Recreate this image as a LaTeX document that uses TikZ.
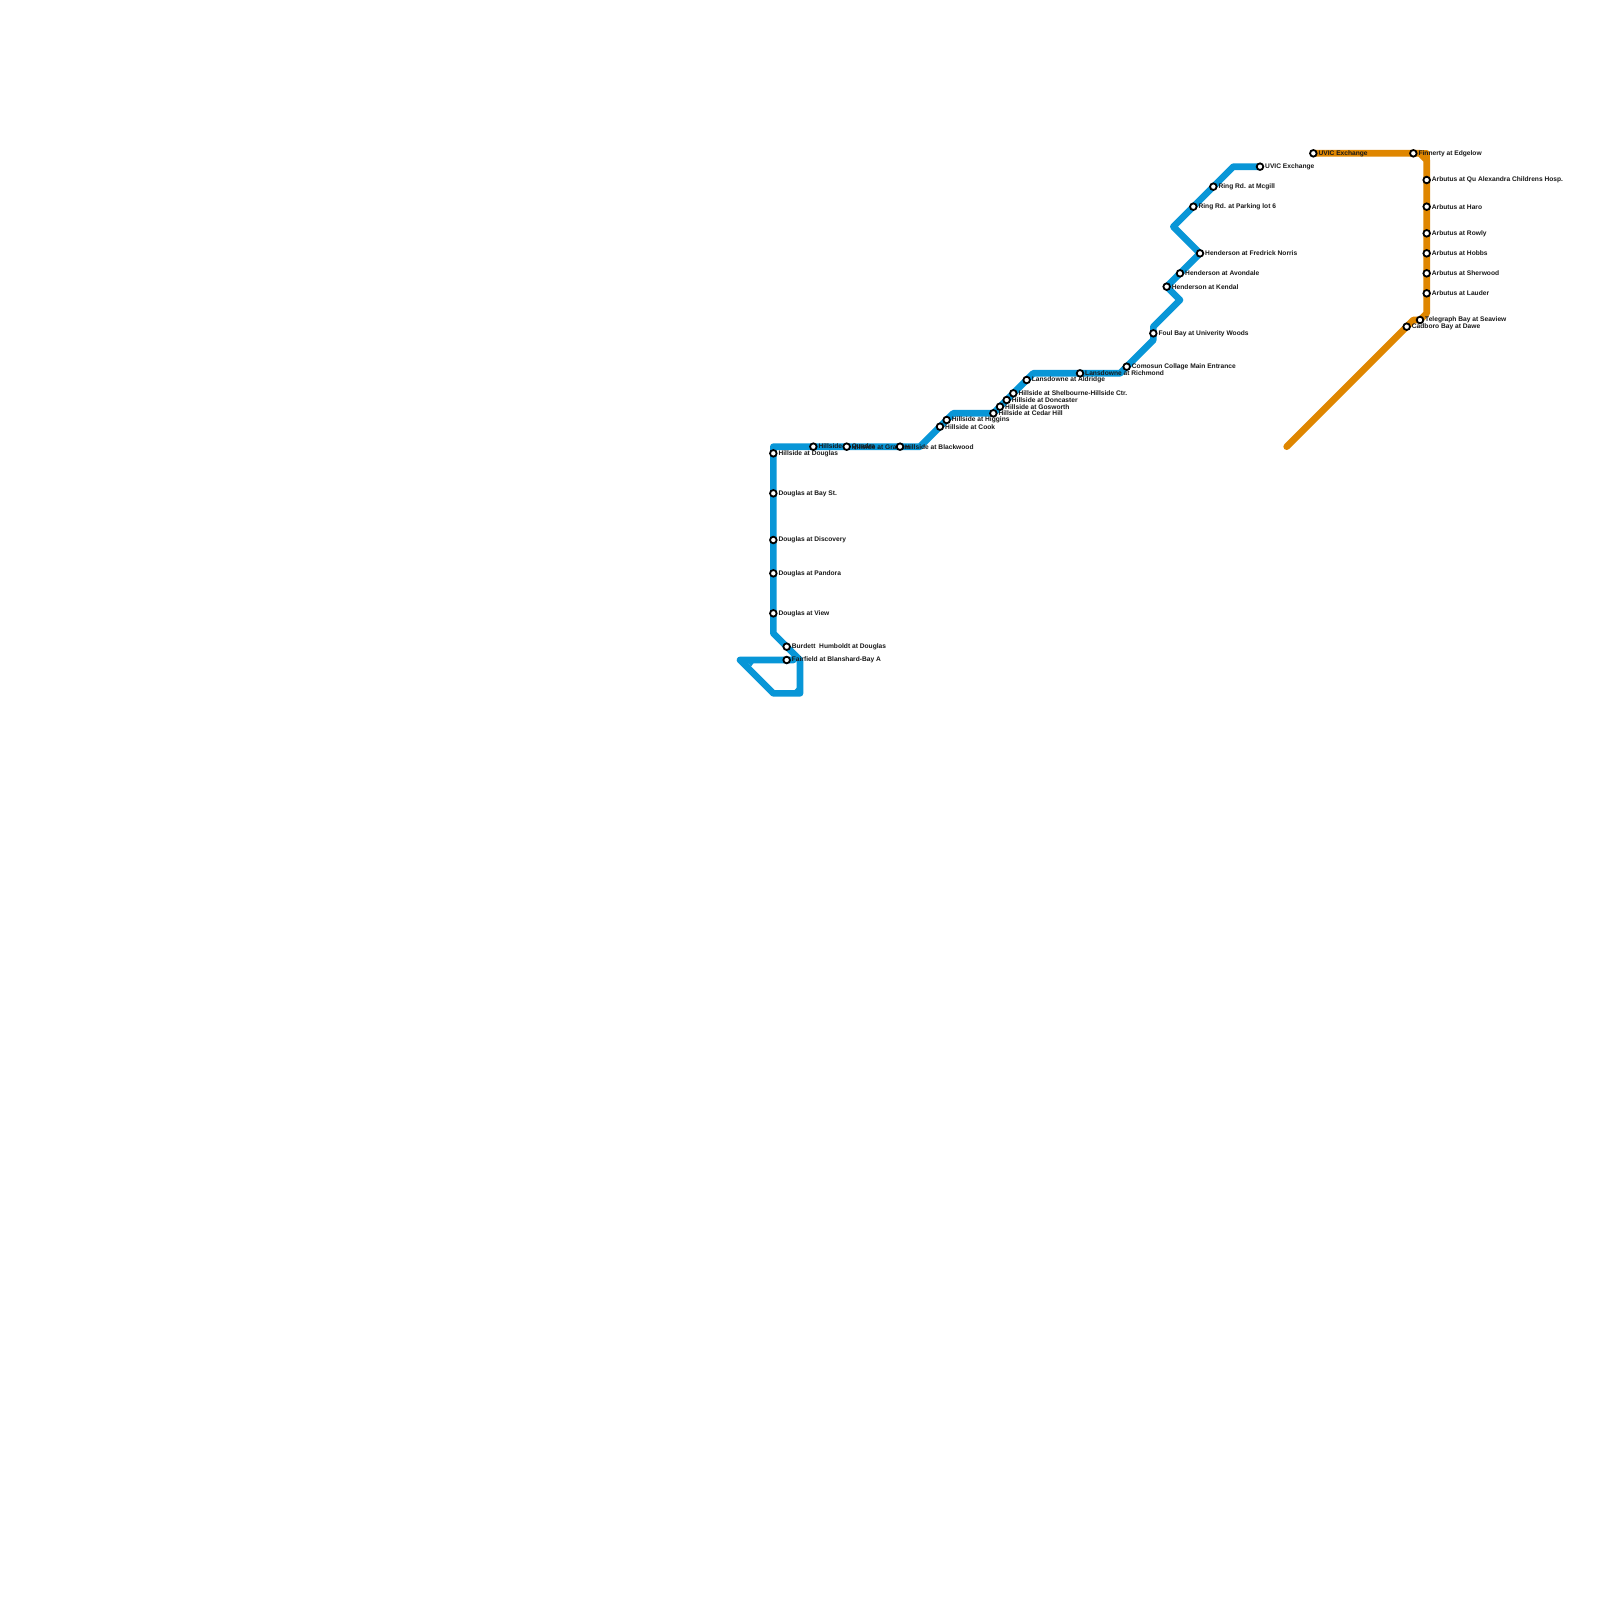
\documentclass[tikz,border=0pt]{standalone}
\usepackage{fontspec}
\setmainfont{Liberation Sans}
\definecolor{bl}{HTML}{0896D7}
\definecolor{or}{HTML}{DF8600}
\tikzset{x=1pt,y=-1pt,
 line/.style={line width=6.67pt,line join=round,line cap=round},
 stn/.style={circle,draw=black,fill=white,line width=1.8pt,minimum size=6.6pt,inner sep=0pt},
 lab/.style={anchor=west,inner sep=0pt,font=\fontsize{6.65}{7}\selectfont\bfseries,text=black!90}}
\newcommand{\st}[4]{\coordinate (#1) at (#2,#3);\node[lab] (#1l) at (#2+5,#3+0.1) {#4};}
\newcommand{\cc}[1]{\node[stn] (#1s) at (#1) {};}
\begin{document}
\begin{tikzpicture}
\useasboundingbox (0,0) rectangle (1600,1600);
\fill[white] (0,0) rectangle (1600,1600);
\foreach \n/\x/\y in {a1/740/660,a2/773.33/693.33,a3/800/693.33,a4/800/660,a5/773.33/633.33,a6/773.33/446.67,a7/920/446.67,a8/953.33/413.33,a9/993.33/413.33,a10/1033.33/373.33,a11/1120/373.33,a12/1153.33/340,a13/1153.33/326.67,a14/1180/300,a15/1166.67/286.67,a16/1200/253.33,a17/1173.33/226.67,a18/1233.33/166.67,a19/1260/166.67,a20/793.33/693.33,a21/800/686.67,a22/793.33/660,a23/747.5/662.5,a24/754/662.5,a25/751/666.5,
 b1/1313.33/153.33,b2/1426.67/153.33,b3/1426.67/313.33,b4/1420/320,b5/1413.33/320,b6/1286.67/446.67,b7/1420/153.33,b8/1426.67/160}
 {\coordinate (\n) at (\x,\y);}
\draw[line,bl] (a22)--(a1)--(a2)--(a3)--(a4)--(a5)--(a6)--(a7)--(a8)--(a9)--(a10)--(a11)--(a12)--(a13)--(a14)--(a15)--(a16)--(a17)--(a18)--(a19);
\draw[line,bl,line width=3pt] (a20)--(a21);
\fill[bl] (a23)--(a24)--(a25)--cycle;
\draw[line,or] (b1)--(b7)--(b8)--(b3)--(b4)--(b5)--(b6);
\draw[line,or,line cap=butt] (b7)--(b2)--(b8);
\st{s1}{773.33}{453.33}{Hillside at Douglas}
\st{s2}{773.33}{493.33}{Douglas at Bay St.}
\st{s3}{773.33}{540}{Douglas at Discovery}
\st{s4}{773.33}{573.33}{Douglas at Pandora}
\st{s5}{773.33}{613.33}{Douglas at View}
\st{s6}{786.67}{646.67}{Burdett\ \ Humboldt at Douglas}
\st{s7}{786.67}{660}{Fairfield at Blanshard-Bay A}
\st{s8}{813.33}{446.67}{Hillside at Quadra}
\st{s9}{846.67}{446.67}{Hillside at Graham}
\st{s10}{900}{446.67}{Hillside at Blackwood}
\st{s11}{940}{426.67}{Hillside at Cook}
\st{s12}{946.67}{420}{Hillside at Higgins}
\st{s13}{993.33}{413.33}{Hillside at Cedar Hill}
\st{s14}{1000}{406.67}{Hillside at Gosworth}
\st{s15}{1006.67}{400}{Hillside at Doncaster}
\st{s16}{1013.33}{393.33}{Hillside at Shelbourne-Hillside Ctr.}
\st{s17}{1026.67}{380}{Lansdowne at Aldridge}
\st{s18}{1080}{373.33}{Lansdowne at Richmond}
\st{s19}{1126.67}{366.67}{Comosun Collage Main Entrance}
\st{s20}{1153.33}{333.33}{Foul Bay at Univerity Woods}
\st{s21}{1166.67}{286.67}{Henderson at Kendal}
\st{s22}{1180}{273.33}{Henderson at Avondale}
\st{s23}{1200}{253.33}{Henderson at Fredrick Norris}
\st{s24}{1193.33}{206.67}{Ring Rd. at Parking lot 6}
\st{s25}{1213.33}{186.67}{Ring Rd. at Mcgill}
\st{s26}{1260}{166.67}{UVIC Exchange}
\st{t1}{1313.33}{153.33}{UVIC Exchange}
\st{t2}{1413.33}{153.33}{Finnerty at Edgelow}
\st{t3}{1426.67}{180}{Arbutus at Qu Alexandra Childrens Hosp.}
\st{t4}{1426.67}{206.67}{Arbutus at Haro}
\st{t5}{1426.67}{233.33}{Arbutus at Rowly}
\st{t6}{1426.67}{253.33}{Arbutus at Hobbs}
\st{t7}{1426.67}{273.33}{Arbutus at Sherwood}
\st{t8}{1426.67}{293.33}{Arbutus at Lauder}
\st{t9}{1420}{320}{Telegraph Bay at Seaview}
\st{t10}{1406.67}{326.67}{Cadboro Bay at Dawe}
\foreach \i in {1,...,26}{\cc{s\i}}
\foreach \i in {1,...,10}{\cc{t\i}}
\end{tikzpicture}
\end{document}
